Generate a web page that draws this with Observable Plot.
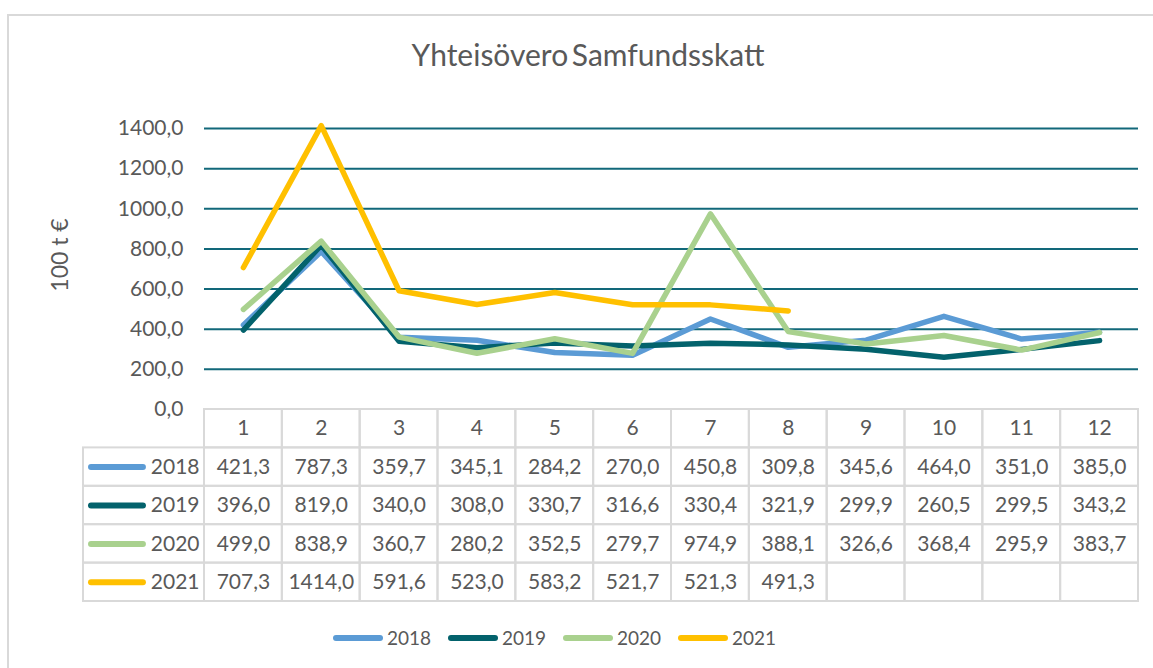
<!DOCTYPE html>
<html>
<head>
<meta charset="utf-8">
<script src="https://cdn.jsdelivr.net/npm/d3@7"></script>
<script src="https://cdn.jsdelivr.net/npm/@observablehq/plot@0.6"></script>
<style>
  html, body { margin: 0; padding: 0; background: #fff; }
  #wrap { position: relative; width: 1153px; height: 668px; overflow: hidden; font-family: Lato, sans-serif; color: #595959; }
  #frame { position: absolute; left: 7px; top: 14px; width: 1300px; height: 800px; border-left: 2px solid #d9d9d9; border-top: 2px solid #d9d9d9; }
  #title { position: absolute; left: 0; width: 1176px; top: 39px; text-align: center; font-size: 30px; line-height: 30px; word-spacing: -4px; white-space: nowrap; }
  #ylabel { position: absolute; left: 59px; top: 255px; transform: translate(-50%, -50%) rotate(-90deg); font-size: 23px; line-height: 23px; white-space: nowrap; }
  .plot { position: absolute; left: 0; }
  #legend { position: absolute; left: 333px; top: 626px; display: flex; align-items: center; font-size: 19px; line-height: 24px; }
  #legend .item { display: flex; align-items: center; width: 115px; flex-shrink: 0; }
  #legend .sw { width: 50px; height: 6px; border-radius: 3px; margin-right: 4px; }
</style>
</head>
<body>
<div id="wrap">
  <div id="frame"></div>
  <div id="title">Yhteisövero Samfundsskatt</div>
  <div id="ylabel">100 t €</div>
  <div id="legend"></div>
</div>
<script>
const title = "Yhteisövero Samfundsskatt";
const months = [1, 2, 3, 4, 5, 6, 7, 8, 9, 10, 11, 12];
const years = ["2018", "2019", "2020", "2021"];
const v2018 = [421.3, 787.3, 359.7, 345.1, 284.2, 270.0, 450.8, 309.8, 345.6, 464.0, 351.0, 385.0];
const v2019 = [396.0, 819.0, 340.0, 308.0, 330.7, 316.6, 330.4, 321.9, 299.9, 260.5, 299.5, 343.2];
const v2020 = [499.0, 838.9, 360.7, 280.2, 352.5, 279.7, 974.9, 388.1, 326.6, 368.4, 295.9, 383.7];
const v2021 = [707.3, 1414.0, 591.6, 523.0, 583.2, 521.7, 521.3, 491.3, null, null, null, null];
const yTicks = [0, 200, 400, 600, 800, 1000, 1200, 1400];
const colors = ["#5b9bd5", "#03626c", "#a9d18e", "#ffc000"];
const gridColor = "#12687a";
const textColor = "#595959";
const borderColor = "#d9d9d9";

const series = [v2018, v2019, v2020, v2021];
const data = years.flatMap((yr, i) => series[i].map((v, j) => ({year: yr, month: months[j], value: v}))).filter(d => d.value != null);
const fmt = v => v.toFixed(1).replace(".", ",");

const wrap = document.getElementById("wrap");

// Chart
const chart = Plot.plot({
  width: 1153,
  height: 430,
  marginTop: 128,
  marginBottom: 21,
  marginLeft: 204,
  marginRight: 15,
  style: {background: "transparent", color: textColor, fontFamily: "Lato, sans-serif", overflow: "visible"},
  x: {type: "linear", domain: [0, 12], axis: null},
  y: {domain: [0, 1400], axis: null},
  color: {domain: years, range: colors},
  marks: [
    Plot.ruleY(yTicks.filter(t => t > 0), {x1: 0, x2: 12, stroke: gridColor, strokeWidth: 2}),
    Plot.axisY({ticks: yTicks, tickFormat: fmt, tickSize: 0, tickPadding: 21, fontSize: 21, label: null}),
    Plot.line(data, {x: d => d.month - 0.5, y: "value", z: "year", stroke: "year", strokeWidth: 5.5, strokeLinecap: "round", strokeLinejoin: "round"})
  ]
});
chart.classList.add("plot");
chart.style.top = "0px";
wrap.appendChild(chart);

// Data table
const labelW = 121 / ((1138 - 204) / 12);
const cells = [];
months.forEach(m => cells.push({x1: m - 1, x2: m, y1: 0, y2: 1}));
years.forEach((yr, i) => {
  cells.push({x1: -labelW, x2: 0, y1: i + 1, y2: i + 2});
  months.forEach(m => cells.push({x1: m - 1, x2: m, y1: i + 1, y2: i + 2}));
});
const yearRows = years.map((yr, i) => ({year: yr, row: i + 1.5}));

const table = Plot.plot({
  width: 1153,
  height: 200,
  marginTop: 4,
  marginBottom: 4,
  marginLeft: 83,
  marginRight: 15,
  style: {background: "transparent", color: textColor, fontFamily: "Lato, sans-serif", overflow: "visible"},
  x: {type: "linear", domain: [-labelW, 12], axis: null},
  y: {type: "linear", domain: [0, 5], reverse: true, axis: null},
  color: {domain: years, range: colors},
  marks: [
    Plot.rect(cells, {x1: "x1", x2: "x2", y1: "y1", y2: "y2", fill: "none", stroke: borderColor, strokeWidth: 2}),
    Plot.text(months, {x: d => d - 0.5, y: 0.5, text: d => String(d), fontSize: 21, fill: textColor}),
    Plot.text(data, {x: d => d.month - 0.5, y: d => years.indexOf(d.year) + 1.5, text: d => fmt(d.value), fontSize: 21, fill: textColor}),
    Plot.text(yearRows, {x: 0, y: "row", text: "year", textAnchor: "end", dx: -5, fontSize: 21, fill: textColor}),
    Plot.ruleY(yearRows, {y: "row", x1: -labelW + 0.103, x2: -labelW + 0.77, stroke: "year", strokeWidth: 6, strokeLinecap: "round"})
  ]
});
table.classList.add("plot");
table.style.top = "405px";
wrap.appendChild(table);

// Legend
const legend = document.getElementById("legend");
years.forEach((yr, i) => {
  const item = document.createElement("div");
  item.className = "item";
  const sw = document.createElement("div");
  sw.className = "sw";
  sw.style.background = colors[i];
  const lab = document.createElement("span");
  lab.textContent = yr;
  item.appendChild(sw);
  item.appendChild(lab);
  legend.appendChild(item);
});
wrap.appendChild(legend);
</script>
</body>
</html>
